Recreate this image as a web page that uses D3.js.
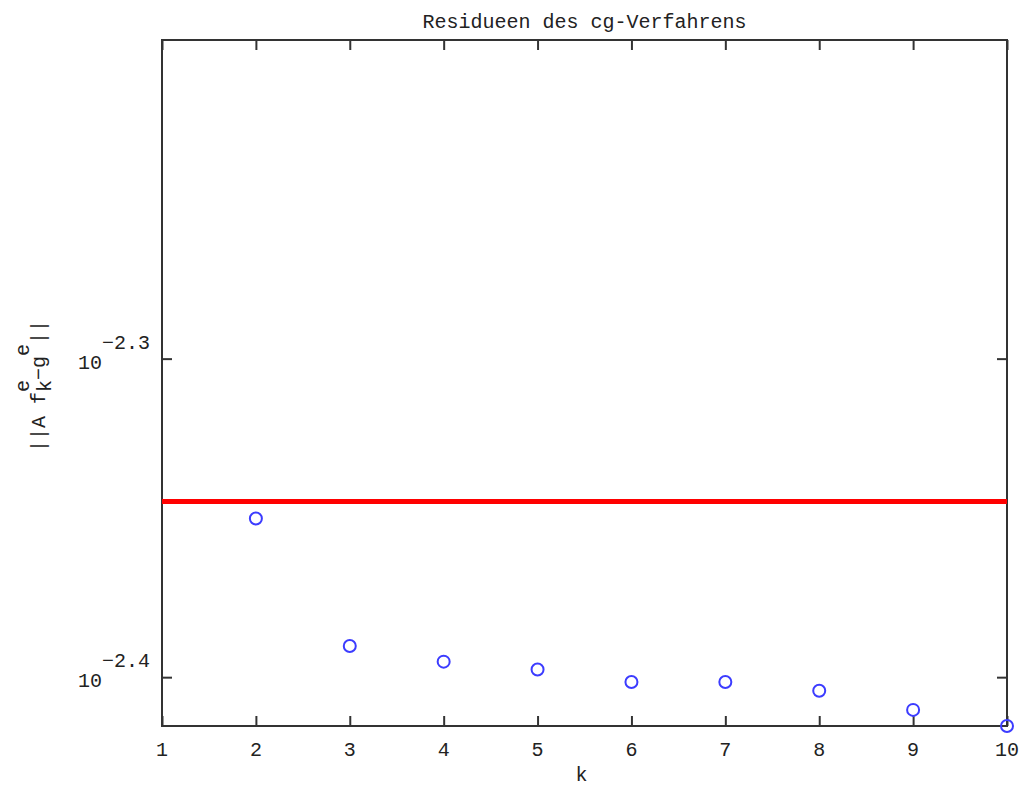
<!DOCTYPE html>
<html>
<head>
<meta charset="utf-8">
<script src="https://cdn.jsdelivr.net/npm/d3@7"></script>
<style>
  body { margin: 0; background: #fff; }
  text { font-family: 'Liberation Mono', 'DejaVu Sans Mono', monospace; fill: #222; }
</style>
</head>
<body>
<div id="chart"></div>
<script>
// cg residuals per iteration k, and the reference level (red line)
const ks = [2, 3, 4, 5, 6, 7, 8, 9, 10];
const residuals = [0.004465, 0.004072, 0.004026, 0.004003, 0.003967, 0.003967, 0.003942, 0.003888, 0.003843];
const threshold = 0.004520;
const xTicks = [1, 2, 3, 4, 5, 6, 7, 8, 9, 10];
const yTickExponents = ['-2.3', '-2.4'];
const yDomain = [0.003843, 0.006310];

const width = 1023;
const height = 790;
const margin = { top: 40, right: 16, bottom: 64, left: 162 };

const svg = d3.select('#chart')
  .append('svg')
    .attr('width', width)
    .attr('height', height);

const x = d3.scaleLinear()
  .domain([1, 10])
  .range([margin.left, width - margin.right]);

const y = d3.scaleLog()
  .domain(yDomain)
  .range([height - margin.bottom, margin.top]);

const axisColor = '#333';
const fontSize = 20;

// ticks (inward, on all four sides)
const yTickVals = yTickExponents.map(e => Math.pow(10, +e));

svg.append('g')
  .attr('transform', `translate(0,${height - margin.bottom})`)
  .call(d3.axisBottom(x).tickValues(xTicks).tickSize(-10).tickFormat(''))
  .call(g => g.select('.domain').remove());
svg.append('g')
  .attr('transform', `translate(0,${margin.top})`)
  .call(d3.axisTop(x).tickValues(xTicks).tickSize(-10).tickFormat(''))
  .call(g => g.select('.domain').remove());
svg.append('g')
  .attr('transform', `translate(${margin.left},0)`)
  .call(d3.axisLeft(y).tickValues(yTickVals).tickSize(-10).tickFormat(''))
  .call(g => g.select('.domain').remove());
svg.append('g')
  .attr('transform', `translate(${width - margin.right},0)`)
  .call(d3.axisRight(y).tickValues(yTickVals).tickSize(-10).tickFormat(''))
  .call(g => g.select('.domain').remove());

svg.selectAll('.tick line')
  .attr('stroke', axisColor)
  .attr('stroke-width', 2);

// border
svg.append('rect')
  .attr('x', margin.left)
  .attr('y', margin.top)
  .attr('width', width - margin.left - margin.right)
  .attr('height', height - margin.top - margin.bottom)
  .attr('fill', 'none')
  .attr('stroke', axisColor)
  .attr('stroke-width', 2);

// x tick labels
svg.append('g')
  .selectAll('text')
  .data(xTicks)
  .join('text')
    .attr('x', d => x(d))
    .attr('y', height - margin.bottom + 30)
    .attr('text-anchor', 'middle')
    .style('font-size', fontSize + 'px')
    .text(d => d);

// y tick labels: 10 with superscript exponent
const yLab = svg.append('g')
  .selectAll('text')
  .data(yTickExponents)
  .join('text')
    .attr('x', margin.left - 12)
    .attr('y', d => y(Math.pow(10, +d)) + 10)
    .attr('text-anchor', 'end')
    .style('font-size', fontSize + 'px');
yLab.append('tspan').text('10');
yLab.append('tspan').attr('dy', -20).text(d => d.replace('-', '\u2212'));

// title
svg.append('text')
  .attr('x', (margin.left + width - margin.right) / 2)
  .attr('y', 28)
  .attr('text-anchor', 'middle')
  .style('font-size', fontSize + 'px')
  .text('Residueen des cg-Verfahrens');

// x label
svg.append('text')
  .attr('x', (margin.left + width - margin.right) / 2 - 3)
  .attr('y', 781)
  .attr('text-anchor', 'middle')
  .style('font-size', fontSize + 'px')
  .text('k');

// y label ||A f^e_k - g^e||
const ylabel = svg.append('text')
  .attr('transform', 'translate(45,452) rotate(-90)')
  .style('font-size', fontSize + 'px');
ylabel.append('tspan').text('||A f');
ylabel.append('tspan').attr('dy', -16).text('e');
ylabel.append('tspan').attr('dx', -12).attr('dy', 22).text('k');
ylabel.append('tspan').attr('dy', -6).text('\u2212g');
ylabel.append('tspan').attr('dy', -16).text('e');
ylabel.append('tspan').attr('dy', 16).text('||');

// reference level
svg.append('line')
  .attr('x1', margin.left)
  .attr('x2', width - margin.right)
  .attr('y1', y(threshold))
  .attr('y2', y(threshold))
  .attr('stroke', '#ff0000')
  .attr('stroke-width', 5);

// residual markers
svg.append('g')
  .selectAll('circle')
  .data(ks)
  .join('circle')
    .attr('cx', d => x(d))
    .attr('cy', (d, i) => y(residuals[i]))
    .attr('r', 6)
    .attr('fill', 'none')
    .attr('stroke', '#3c3cff')
    .attr('stroke-width', 2);
</script>
</body>
</html>
